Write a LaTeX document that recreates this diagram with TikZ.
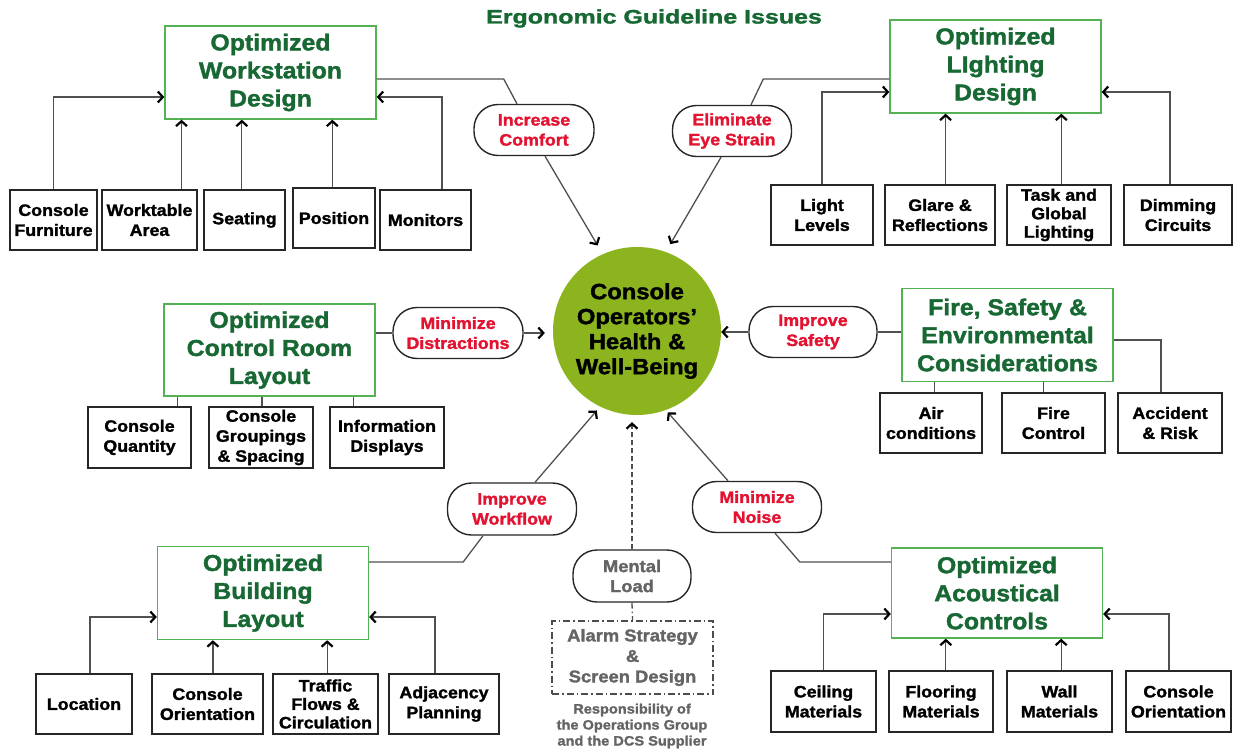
\documentclass[tikz,border=0pt]{standalone}
\usepackage{fontspec}
\setmainfont{Liberation Sans}[FakeStretch=1.08, BoldFont={Liberation Sans Bold}, BoldFeatures={FakeBold=1.6}]
\newfontfamily\titlefont{Liberation Sans}[FakeStretch=1.28, BoldFont={Liberation Sans Bold}, BoldFeatures={FakeBold=1.6}]
\usetikzlibrary{arrows.meta,calc}

\definecolor{boxgreen}{RGB}{84,178,84}
\definecolor{textgreen}{RGB}{24,104,52}
\definecolor{aimred}{RGB}{226,18,48}
\definecolor{hubgreen}{RGB}{140,180,30}
\definecolor{linegray}{RGB}{80,80,80}
\definecolor{notegray}{RGB}{100,100,100}

\begin{document}
\begin{tikzpicture}[
  x=1pt, y=-1pt,
  goal/.style={
    draw=boxgreen,
    line width=1.4pt,
    fill=white,
    text=textgreen,
    font=\fontsize{23}{28}\selectfont\bfseries,
    align=center,
    minimum width=211pt,
    minimum height=93pt,
    inner sep=0pt
  },
  item/.style={
    draw=black!85,
    line width=1.4pt,
    fill=white,
    font=\fontsize{16.5}{20}\selectfont\bfseries,
    align=center,
    minimum height=60pt,
    inner sep=0pt
  },
  aim/.style={
    draw=black!85,
    line width=1.4pt,
    fill=white,
    rounded corners=24pt,
    text=aimred,
    font=\fontsize{16.5}{20}\selectfont\bfseries,
    align=center,
    minimum width=120pt,
    minimum height=51pt,
    inner sep=0pt
  },
  link/.style={draw=linegray, line width=1.3pt},
  arrow/.style={link, -{Straight Barb[length=5pt,width=11pt,line width=2.2pt,color=black]}}
]
\useasboundingbox (0,0) rectangle (1233,749);

\node[font=\titlefont\fontsize{19.5}{22}\selectfont\bfseries, text=textgreen] (title) at (654,18.5) {Ergonomic Guideline Issues};

\node[circle, fill=hubgreen, minimum size=168pt, inner sep=0pt, align=center,
  font=\fontsize{22}{25}\selectfont\bfseries] (hub) at (637,331) {Console\\Operators'\\Health \&\\Well-Being};

% main topics
\node[goal] (ws) at (270.5,72.5) {Optimized\\Workstation\\Design};
\node[goal] (light) at (995.5,66.5) {Optimized\\LIghting\\Design};
\node[goal, minimum height=92pt] (room) at (269.5,350) {Optimized\\Control Room\\Layout};
\node[goal] (fire) at (1007.5,335) {Fire, Safety \&\\Environmental\\Considerations};
\node[goal] (bldg) at (263,593) {Optimized\\Building\\Layout};
\node[goal, minimum height=90pt] (acou) at (997,593) {Optimized\\Acoustical\\Controls};

% items
\node[item, minimum width=87pt] (furn) at (53.5,220) {Console\\Furniture};
\node[item, minimum width=95pt] (table) at (149.5,220) {Worktable\\Area};
\node[item, minimum width=81pt] (seat) at (244.5,220) {Seating};
\node[item, minimum width=82pt] (pos) at (334,218) {Position};
\node[item, minimum width=91pt] (mon) at (425.5,220) {Monitors};

\node[item, minimum width=102pt] (lvl) at (822,215) {Light\\Levels};
\node[item, minimum width=110pt] (glare) at (940,215) {Glare \&\\Reflections};
\node[item, minimum width=104pt, font=\fontsize{16.5}{18.5}\selectfont\bfseries] (task) at (1059,215) {Task and\\Global\\Lighting};
\node[item, minimum width=108pt] (dim) at (1178,215) {Dimming\\Circuits};

\node[item, minimum width=103pt, minimum height=61pt] (qty) at (139.5,437.5) {Console\\Quantity};
\node[item, minimum width=104pt, minimum height=61pt] (grp) at (261,437.5) {Console\\Groupings\\\& Spacing};
\node[item, minimum width=114pt, minimum height=61pt] (info) at (387,437.5) {Information\\Displays};

\node[item, minimum width=102pt] (air) at (931,423) {Air\\conditions};
\node[item, minimum width=103pt] (fctl) at (1053.5,423) {Fire\\Control};
\node[item, minimum width=104pt] (risk) at (1170,423) {Accident\\\& Risk};

\node[item, minimum width=96pt] (loc) at (84,704) {Location};
\node[item, minimum width=111pt] (corient) at (207.5,704) {Console\\Orientation};
\node[item, minimum width=105pt, font=\fontsize{16.5}{18.5}\selectfont\bfseries] (traffic) at (325.5,704) {Traffic\\Flows \&\\Circulation};
\node[item, minimum width=110pt] (adj) at (444,704) {Adjacency\\Planning};

\node[item, minimum width=105pt, minimum height=61pt] (ceil) at (823.5,701.5) {Ceiling\\Materials};
\node[item, minimum width=104pt, minimum height=61pt] (floor) at (941,701.5) {Flooring\\Materials};
\node[item, minimum width=105pt, minimum height=61pt] (wall) at (1059.5,701.5) {Wall\\Materials};
\node[item, minimum width=105pt, minimum height=61pt] (corient2) at (1178.5,701.5) {Console\\Orientation};

% aims
\node[aim] (comfort) at (534,130) {Increase\\Comfort};
\node[aim, minimum width=119pt] (eye) at (732,131) {Eliminate\\Eye Strain};
\node[aim, minimum width=130pt] (distr) at (458,333) {Minimize\\Distractions};
\node[aim, minimum width=128pt] (safety) at (813,332) {Improve\\Safety};
\node[aim, minimum width=129pt, minimum height=52pt] (flow) at (512,509) {Improve\\Workflow};
\node[aim, minimum width=129pt] (noise) at (757,507) {Minimize\\Noise};
\node[aim, minimum width=118pt, minimum height=52pt, text=notegray,
  font=\fontsize{17}{20}\selectfont\bfseries] (mental) at (632,576) {Mental\\Load};

\node[draw=black!70, line width=1.4pt, dash pattern=on 7pt off 3pt on 1.5pt off 3pt,
  minimum width=161pt, minimum height=73pt, inner sep=0pt, align=center, text=notegray,
  font=\fontsize{17}{20.5}\selectfont\bfseries] (alarm) at (632.5,657.5) {Alarm Strategy\\\&\\Screen Design};
\node[text=notegray, align=center, font=\fontsize{13.5}{16}\selectfont\bfseries] (resp) at (632,726)
  {Responsibility of\\the Operations Group\\and the DCS Supplier};

% ports on the topic boxes
\coordinate (ws-1) at ($(ws.south west)!.081!(ws.south east)$);
\coordinate (ws-2) at ($(ws.south west)!.365!(ws.south east)$);
\coordinate (ws-3) at ($(ws.south west)!.791!(ws.south east)$);
\coordinate (light-1) at ($(light.south west)!.265!(light.south east)$);
\coordinate (light-2) at ($(light.south west)!.810!(light.south east)$);
\coordinate (room-1) at ($(room.south west)!.066!(room.south east)$);
\coordinate (room-2) at ($(room.south west)!.464!(room.south east)$);
\coordinate (room-3) at ($(room.south west)!.896!(room.south east)$);
\coordinate (fire-1) at ($(fire.south west)!.156!(fire.south east)$);
\coordinate (fire-2) at ($(fire.south west)!.668!(fire.south east)$);
\coordinate (bldg-1) at ($(bldg.south west)!.264!(bldg.south east)$);
\coordinate (bldg-2) at ($(bldg.south west)!.802!(bldg.south east)$);
\coordinate (acou-1) at ($(acou.south west)!.259!(acou.south east)$);
\coordinate (acou-2) at ($(acou.south west)!.802!(acou.south east)$);

% items into topics
\draw[arrow] (furn.north) |- ([yshift=-24.5pt]ws.west);
\draw[arrow] (table.north -| ws-1) -- (ws-1);
\draw[arrow] (seat.north -| ws-2) -- (ws-2);
\draw[arrow] (pos.north -| ws-3) -- (ws-3);
\draw[arrow] ([xshift=16.5pt]mon.north) |- ([yshift=-24.5pt]ws.east);

\draw[arrow] (lvl.north) |- ([yshift=-25.5pt]light.west);
\draw[arrow] (glare.north -| light-1) -- (light-1);
\draw[arrow] (task.north -| light-2) -- (light-2);
\draw[arrow] ([xshift=-8pt]dim.north) |- ([yshift=-25.5pt]light.east);

\draw[link] (room-1) -- (room-1 |- qty.north);
\draw[link] (room-2) -- (room-2 |- grp.north);
\draw[link] (room-3) -- (room-3 |- info.north);

\draw[link] (fire-1) -- (fire-1 |- air.north);
\draw[link] (fire-2) -- (fire-2 |- fctl.north);
\draw[link] ([yshift=-5pt]fire.east) -| ([xshift=-9pt]risk.north);

\draw[arrow] ([xshift=6pt]loc.north) |- ([yshift=-24pt]bldg.west);
\draw[arrow] (corient.north -| bldg-1) -- (bldg-1);
\draw[arrow] (traffic.north -| bldg-2) -- (bldg-2);
\draw[arrow] ([xshift=-9pt]adj.north) |- ([yshift=-24pt]bldg.east);

\draw[arrow] (ceil.north) |- ([yshift=-21pt]acou.west);
\draw[arrow] (floor.north -| acou-1) -- (acou-1);
\draw[arrow] (wall.north -| acou-2) -- (acou-2);
\draw[arrow] ([xshift=-9.5pt]corient2.north) |- ([yshift=-21pt]acou.east);

% topics to the centre
\draw[link] ([yshift=-6.5pt]ws.east) -- ++(127,0) -- ([xshift=-17pt]comfort.north);
\draw[arrow, shorten >=10pt] ([xshift=11pt]comfort.south) -- (hub.114);
\draw[link] ([yshift=-12.5pt]light.west) -- ++(-126,0) -- ([xshift=19pt]eye.north);
\draw[arrow, shorten >=9pt] ([xshift=-11pt]eye.south) -- (hub.70);
\draw[link] ([yshift=17pt]room.east) -- (distr.west);
\draw[arrow, shorten >=8pt] (distr.east) -- (distr.east -| hub.west);
\draw[link] ([yshift=3pt]fire.west) -- (safety.east);
\draw[arrow] (safety.west) -- (safety.west -| hub.east);
\draw[link] ([yshift=31pt]bldg.east) -- ++(94,0) -- ([xshift=-29pt]flow.south);
\draw[arrow, shorten >=5pt] ([xshift=23pt]flow.north) -- (hub.244);
\draw[link] ([yshift=31pt]acou.west) -- ++(-91,0) -- ([xshift=18pt]noise.south);
\draw[arrow, shorten >=3pt] ([xshift=-29pt]noise.north) -- (hub.290);

% mental load
\draw[arrow, dash pattern=on 5pt off 3pt, shorten >=7pt] (mental.north) -- (mental.north |- hub.south);
\draw[link, dash pattern=on 6pt off 3pt on 1.5pt off 3pt] (mental.south) -- (alarm.north);

\end{tikzpicture}
\end{document}
